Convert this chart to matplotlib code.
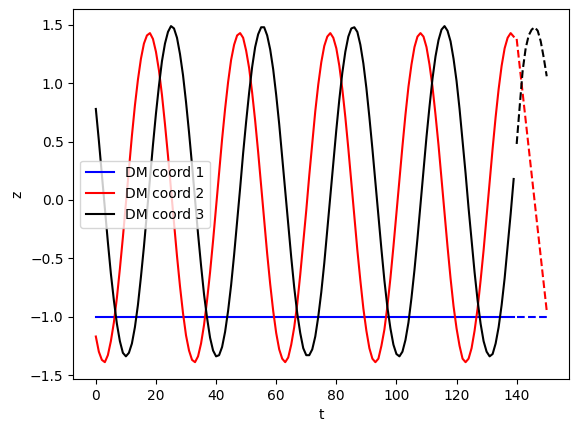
import matplotlib
matplotlib.use("Agg")
import matplotlib.pyplot as plt
import numpy as np

# fitted part, t = 0 .. 139
t_fit = np.arange(140)
coord1 = [-1.0] * 140
coord2 = [
    -1.17, -1.30, -1.37, -1.39, -1.33, -1.21, -1.05, -0.84, -0.59, -0.32,
    -0.03, 0.27, 0.55, 0.81, 1.03, 1.21, 1.34, 1.41, 1.43, 1.38,
    1.27, 1.11, 0.90, 0.65, 0.38, 0.09, -0.20, -0.48, -0.74, -0.97,
    -1.16, -1.29, -1.37, -1.39, -1.34, -1.23, -1.07, -0.86, -0.62, -0.35,
    -0.06, 0.24, 0.52, 0.78, 1.01, 1.20, 1.33, 1.41, 1.43, 1.39,
    1.28, 1.13, 0.92, 0.68, 0.41, 0.12, -0.17, -0.46, -0.72, -0.95,
    -1.14, -1.28, -1.36, -1.39, -1.35, -1.24, -1.09, -0.89, -0.64, -0.37,
    -0.09, 0.21, 0.49, 0.76, 0.99, 1.18, 1.32, 1.40, 1.43, 1.39,
    1.30, 1.15, 0.95, 0.71, 0.44, 0.15, -0.14, -0.43, -0.69, -0.93,
    -1.12, -1.27, -1.36, -1.39, -1.36, -1.25, -1.11, -0.91, -0.67, -0.40,
    -0.11, 0.18, 0.46, 0.73, 0.97, 1.16, 1.31, 1.40, 1.43, 1.40,
    1.31, 1.16, 0.97, 0.73, 0.47, 0.18, -0.11, -0.40, -0.67, -0.91,
    -1.10, -1.25, -1.36, -1.39, -1.36, -1.27, -1.12, -0.93, -0.69, -0.43,
    -0.14, 0.15, 0.44, 0.71, 0.95, 1.15, 1.30, 1.39, 1.43, 1.40,
]
coord3 = [
    0.78, 0.51, 0.22, -0.07, -0.36, -0.63, -0.86, -1.06, -1.21, -1.31,
    -1.34, -1.31, -1.23, -1.09, -0.90, -0.66, -0.40, -0.11, 0.18, 0.47,
    0.74, 0.98, 1.19, 1.34, 1.44, 1.49, 1.47, 1.39, 1.25, 1.07,
    0.84, 0.58, 0.30, 0.00, -0.29, -0.56, -0.81, -1.01, -1.18, -1.29,
    -1.34, -1.33, -1.26, -1.13, -0.95, -0.73, -0.47, -0.19, 0.10, 0.40,
    0.67, 0.92, 1.14, 1.31, 1.42, 1.48, 1.48, 1.41, 1.29, 1.12,
    0.90, 0.65, 0.37, 0.08, -0.21, -0.49, -0.75, -0.97, -1.14, -1.27,
    -1.33, -1.33, -1.28, -1.17, -1.00, -0.79, -0.54, -0.26, 0.03, 0.32,
    0.60, 0.86, 1.09, 1.27, 1.40, 1.47, 1.48, 1.44, 1.33, 1.17,
    0.96, 0.71, 0.44, 0.15, -0.14, -0.42, -0.69, -0.92, -1.10, -1.24,
    -1.32, -1.34, -1.30, -1.20, -1.05, -0.84, -0.60, -0.33, -0.04, 0.25,
    0.54, 0.80, 1.04, 1.23, 1.37, 1.46, 1.49, 1.45, 1.36, 1.21,
    1.02, 0.78, 0.51, 0.23, -0.07, -0.35, -0.62, -0.86, -1.06, -1.21,
    -1.30, -1.34, -1.32, -1.23, -1.09, -0.90, -0.67, -0.40, -0.12, 0.18,
]

# predicted part, t = 140 .. 150
t_pred = np.arange(140, 151)
pred1 = [-1.0] * 11
t_pred2 = [140, 150]
pred2 = [1.38, -0.95]
pred3 = [0.48, 0.80, 1.11, 1.30, 1.41, 1.46, 1.48, 1.45, 1.36, 1.22, 1.06]

fig = plt.figure(figsize=(5.78, 4.32), dpi=100)
ax = fig.add_axes([0.1268, 0.1227, 0.8581, 0.8558])

ax.plot(t_fit, coord1, color="b", label="DM coord 1")
ax.plot(t_fit, coord2, color="r", label="DM coord 2")
ax.plot(t_fit, coord3, color="k", label="DM coord 3")

ax.plot(t_pred, pred1, color="b", linestyle="--")
ax.plot(t_pred2, pred2, color="r", linestyle="--")
ax.plot(t_pred, pred3, color="k", linestyle="--")

ax.set_xlabel("t")
ax.set_ylabel("z")
ax.legend(loc="center left")

fig.savefig("out.png", dpi=100)
